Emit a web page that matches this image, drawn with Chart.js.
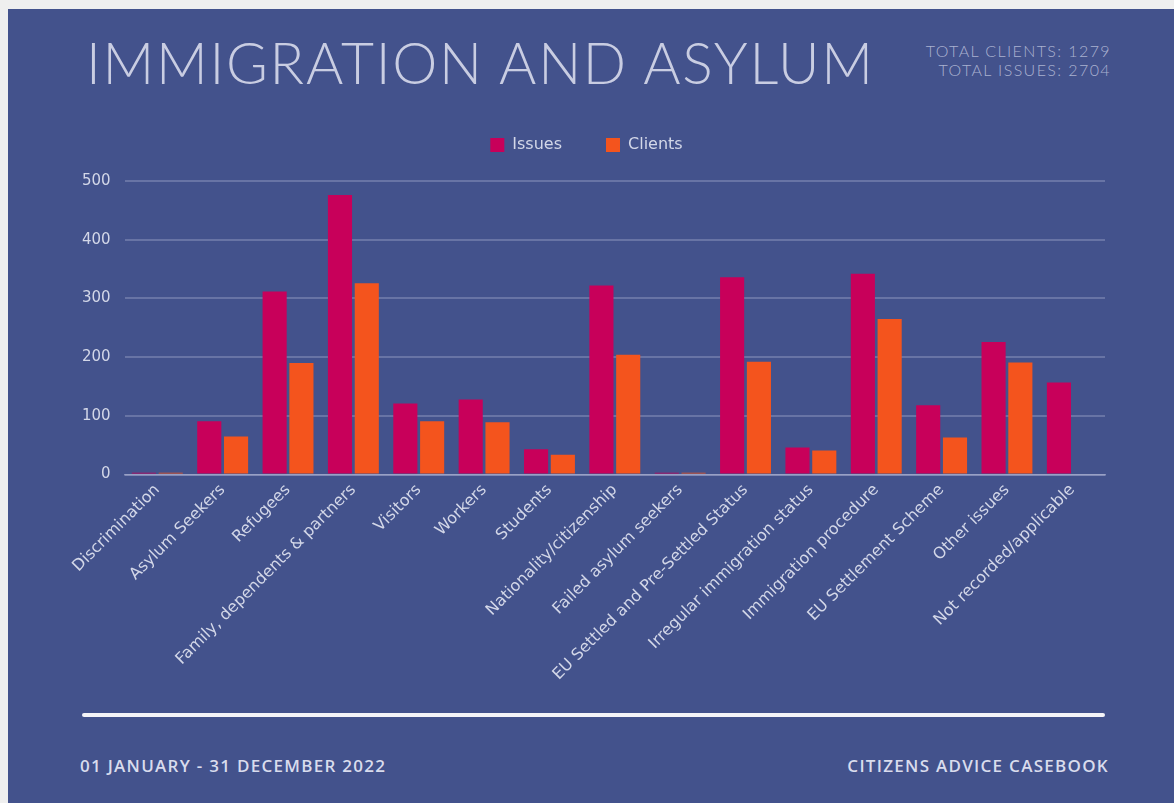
<!DOCTYPE html>
<html>
<head>
<meta charset="utf-8">
<script src="https://cdn.jsdelivr.net/npm/chart.js@4.4.1/dist/chart.umd.min.js"></script>
<style>
  html, body { margin:0; padding:0; background:#efefef; width:1174px; height:803px; overflow:hidden; }
  #panel { position:absolute; left:8px; top:9px; width:1166px; height:794px; background:#43528c; }
  #title { position:absolute; left:86px; top:28px; font-family:Lato, sans-serif; font-weight:300; font-size:57px; color:#c9cde2; letter-spacing:1.7px; white-space:nowrap; }
  #totals { position:absolute; right:63px; top:41px; text-align:right; font-family:Lato, sans-serif; font-weight:300; font-size:16px; line-height:19px; color:#aab1d0; letter-spacing:1.4px; }
  #rule { position:absolute; left:82px; top:713px; width:1023px; height:4px; background:#f4f4f8; border-radius:2px; }
  .foot { position:absolute; top:754px; font-family:"Open Sans", sans-serif; font-weight:600; font-size:17px; color:#d9dced; letter-spacing:1.28px; white-space:nowrap; }
  #foot1 { left:80px; }
  #foot2 { right:65px; }
  #wrap { position:absolute; left:60px; top:93px; width:1055px; height:597px; }
</style>
</head>
<body>
<div id="panel"></div>
<div id="title">IMMIGRATION AND ASYLUM</div>
<div id="totals">TOTAL CLIENTS: 1279<br>TOTAL ISSUES: 2704</div>
<div id="wrap"><canvas id="c" width="1055" height="597"></canvas></div>
<div id="rule"></div>
<div class="foot" id="foot1">01 JANUARY - 31 DECEMBER 2022</div>
<div class="foot" id="foot2">CITIZENS ADVICE CASEBOOK</div>
<script>
const categories = ["Discrimination","Asylum Seekers","Refugees","Family, dependents & partners","Visitors","Workers","Students","Nationality/citizenship","Failed asylum seekers","EU Settled and Pre-Settled Status","Irregular immigration status","Immigration procedure","EU Settlement Scheme","Other issues","Not recorded/applicable"];
const issues  = [3, 91, 312, 476, 121, 128, 43, 322, 3, 336, 46, 342, 118, 226, 157];
const clients = [3, 65, 190, 326, 91, 89, 34, 204, 3, 192, 41, 265, 63, 191, 0];
const yTicks = [0, 100, 200, 300, 400, 500];

const textCol = '#d3d7e8';
const legendGap = {
  id: 'legendGap',
  beforeInit(chart) {
    const orig = chart.legend.fit;
    chart.legend.fit = function () { orig.bind(this)(); this.height += 18; };
  }
};
new Chart(document.getElementById('c'), {
  type: 'bar',
  data: {
    labels: categories,
    datasets: [
      { label: 'Issues', data: issues, backgroundColor: '#c8005a', borderWidth: 0 },
      { label: 'Clients', data: clients, backgroundColor: '#f4541d', borderWidth: 0 }
    ]
  },
  plugins: [legendGap],
  options: {
    responsive: false,
    animation: false,
    datasets: { bar: { barPercentage: 0.9, categoryPercentage: 0.82 } },
    layout: { padding: { left: 8, right: 10, top: 0, bottom: 0 } },
    plugins: {
      legend: {
        position: 'top',
        labels: { color: textCol, boxWidth: 14, boxHeight: 14, padding: 44, font: { family: '"DejaVu Sans", sans-serif', size: 16 } }
      },
      tooltip: { enabled: false }
    },
    scales: {
      x: {
        grid: { display: false, drawTicks: false },
        border: { color: 'rgba(200,206,230,0.5)', width: 1.5 },
        ticks: { color: textCol, maxRotation: 45, minRotation: 45, autoSkip: false, padding: 6, font: { family: '"DejaVu Sans", sans-serif', size: 16 } }
      },
      y: {
        min: 0, max: 500,
        afterBuildTicks: (ax) => { ax.ticks = yTicks.map(v => ({ value: v })); },
        grid: { color: 'rgba(200,206,230,0.28)', lineWidth: 2, drawTicks: false },
        border: { display: false },
        ticks: { color: textCol, padding: 14, font: { family: '"DejaVu Sans", sans-serif', size: 15 } }
      }
    }
  }
});
</script>
</body>
</html>
